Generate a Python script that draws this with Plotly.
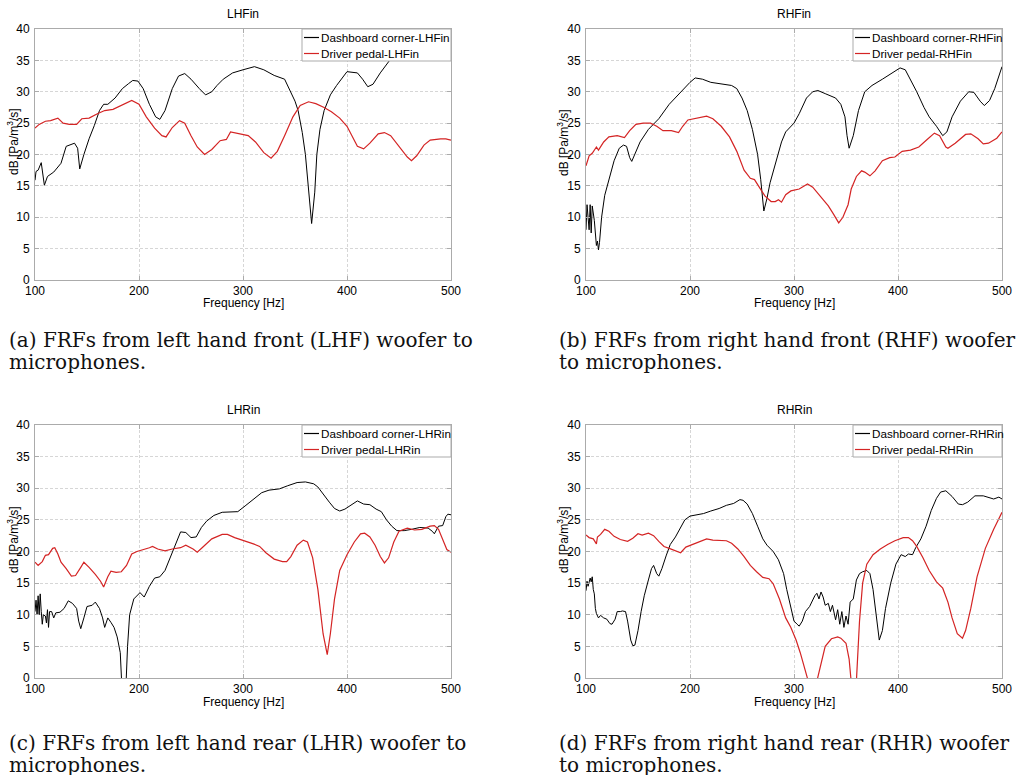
import plotly.graph_objects as go

# ---------------- data ----------------
# (a) LHFin
a_dash_f = [100,101,103,106,109,112,118,125,130,136,138,141,143,147,152,157,162,166,170,177,184,190,194,199,204,210,216,220,225,232,238,244,250,258,264,270,275,281,290,300,311,320,330,340,346,350,353,357,360,363,366,369,371,374,378,384,390,400,410,415,420,425,432,441,450,460,480,500]
a_dash_v = [15.9,17.3,17.5,18.7,15.1,16.5,17.2,18.6,21.3,21.6,21.8,21.0,17.7,20.0,22.5,24.6,27.0,28.0,28.0,29.0,30.5,31.3,31.8,31.7,30.5,28.0,26.0,25.6,27.0,30.5,32.5,32.9,32.0,30.5,29.5,30.0,31.0,32.0,33.0,33.5,34.0,33.5,32.6,32.0,30.0,28.5,27.0,23.5,20.0,15.0,9.0,14.0,20.0,24.0,27.0,29.5,31.0,33.2,33.0,32.0,30.8,31.2,33.0,35.0,36.5,37.5,38.0,38.0]
a_ped_f = [100,104,110,115,122,127,133,140,145,152,160,167,175,185,193,200,207,215,222,226,232,239,244,250,256,263,270,278,284,288,295,305,312,320,327,333,340,348,355,363,370,378,385,393,400,405,410,416,422,430,436,442,450,458,462,467,474,480,490,495,500]
a_ped_v = [24.2,24.8,25.3,25.4,25.8,25.0,24.8,24.8,25.7,25.8,26.5,27.0,27.2,28.0,28.6,28.0,26.0,24.2,23.0,22.8,24.3,25.4,25.0,23.0,21.2,20.0,20.8,22.2,22.4,23.6,23.4,23.0,22.0,20.3,19.4,20.5,23.0,26.0,27.8,28.4,28.1,27.5,26.8,25.8,24.5,22.8,21.3,20.9,21.8,23.3,23.5,23.0,21.3,19.6,19.0,19.8,21.5,22.3,22.5,22.5,22.3]

# (b) RHFin
b_dash_f = [100,101,103,104,105,106,108,110,111,112,113,115,118,122,127,132,136,139,142,144,148,152,160,170,180,190,200,205,212,220,230,240,245,250,255,260,265,268,271,274,277,282,288,292,300,305,312,318,323,330,340,345,349,351,353,357,362,368,375,385,395,402,407,412,418,425,430,437,443,447,452,460,468,473,479,483,488,493,498,500]
b_dash_v = [8.0,12.0,8.0,12.0,7.5,11.8,9.5,5.5,6.2,4.8,6.0,10.0,13.5,16.0,19.0,21.0,21.5,21.3,19.5,18.9,20.5,22.0,24.0,25.7,28.0,29.8,31.5,32.2,32.0,31.5,31.3,31.0,30.5,29.0,27.0,24.0,20.0,16.0,11.0,13.0,15.5,18.5,22.0,23.6,25.0,26.5,29.0,30.0,30.2,29.7,29.0,28.0,26.0,23.0,21.0,23.0,27.0,30.0,31.0,32.0,33.0,33.8,33.5,32.0,30.0,27.5,26.0,24.5,23.0,23.6,26.0,28.5,30.0,29.9,28.5,27.8,28.6,30.5,33.0,34.0]
b_ped_f = [100,103,106,110,112,117,122,130,137,142,148,155,162,168,174,182,189,193,198,205,212,216,222,230,238,245,252,258,262,267,272,278,282,285,288,292,297,305,313,318,325,333,338,343,347,352,355,360,365,368,373,378,385,392,397,404,412,420,428,435,440,446,448,455,465,470,477,482,487,495,500]
b_ped_v = [18.2,19.8,20.2,21.2,20.7,22.0,22.8,23.0,22.7,23.8,24.8,25.0,25.0,24.5,23.8,23.8,23.5,24.5,25.5,25.7,26.0,26.1,25.7,24.5,22.8,20.5,17.5,16.2,16.0,14.8,13.4,12.5,12.5,12.8,12.4,13.6,14.2,14.5,15.3,14.8,13.4,11.8,10.5,9.1,10.0,12.0,14.5,16.5,17.4,17.2,16.6,17.4,19.0,19.5,19.6,20.5,20.7,21.2,22.4,23.4,23.0,21.2,21.0,21.8,23.2,23.3,22.5,21.7,21.8,22.6,23.6]

# (c) LHRin
c_dash_f = [100,101,102,103,104,105,106,107,108,110,111,112,113,114,116,118,120,124,128,132,136,140,142,144,147,150,155,158,162,165,167,170,173,176,179,182,184,187,189,191,195,198,201,205,210,215,220,225,230,235,240,245,250,255,260,265,272,280,290,295,302,310,318,325,335,343,352,360,368,372,378,383,388,393,398,403,410,416,422,428,433,438,443,448,455,462,470,478,482,484,488,492,495,497,500]
c_dash_v = [10.5,12.3,10.0,13.0,10.0,13.3,10.5,8.5,10.0,9.8,8.7,10.8,8.0,10.5,10.5,9.5,10.3,10.4,11.0,12.2,11.8,11.0,9.0,7.8,9.5,11.3,11.5,12.0,11.0,9.5,8.0,9.5,8.8,8.0,6.5,4.0,-3.0,-3.0,5.0,10.0,12.5,13.0,13.5,12.8,14.5,15.8,16.0,17.0,19.0,21.0,23.1,23.0,22.2,22.3,23.8,24.8,25.7,26.2,26.3,26.3,27.2,28.2,29.3,29.7,29.9,30.4,30.9,31.0,30.7,30.2,28.8,27.8,26.8,26.4,26.7,27.3,28.0,27.5,27.4,26.7,26.3,25.0,24.0,23.3,23.3,23.5,23.8,23.7,23.2,22.8,24.0,24.1,25.5,25.9,25.8]
c_ped_f = [100,103,107,110,113,117,119,122,125,130,135,139,144,147,152,158,163,166,170,173,178,183,188,193,198,205,210,213,218,225,232,240,245,252,256,262,270,280,285,292,300,310,316,322,330,338,342,346,352,358,362,367,372,377,381,384,388,393,400,407,413,417,422,427,432,436,440,445,450,458,465,472,480,484,488,492,496,500]
c_ped_v = [18.3,17.8,18.4,19.4,19.5,20.5,20.6,19.6,18.3,17.3,16.1,16.2,17.5,18.3,17.5,16.4,15.3,14.4,16.0,16.9,16.7,16.8,17.8,19.6,20.0,20.3,20.6,20.8,20.4,20.1,20.4,20.6,21.0,20.4,19.9,20.8,22.0,22.7,22.7,22.2,21.8,21.2,20.8,19.8,18.8,18.4,18.4,19.2,21.0,21.8,21.5,19.0,14.0,7.0,3.7,7.0,12.5,17.0,19.5,21.5,22.8,22.9,22.3,21.0,19.2,18.2,19.0,21.5,23.2,23.7,23.4,23.5,24.0,24.1,23.5,22.0,20.3,19.9]

# (d) RHRin
d_dash_f = [100,101,102,104,105,106,107,108,109,110,112,114,117,120,123,125,128,130,133,135,138,140,143,145,147,150,153,156,160,163,165,168,170,173,177,181,186,190,195,200,206,213,220,228,235,242,248,251,255,260,265,270,274,280,285,290,293,297,300,303,305,308,311,315,318,320,322,324,326,328,330,333,335,337,340,342,344,346,348,350,352,354,357,360,363,366,370,373,376,379,382,385,388,393,398,403,407,410,414,417,422,427,432,437,441,446,452,458,462,467,474,482,488,492,497,500]
d_dash_v = [13.8,15.3,14.5,15.8,15.2,16.0,14.0,13.3,11.0,10.2,9.5,9.9,9.5,9.3,8.6,8.5,9.3,10.5,10.5,10.6,10.5,9.0,6.0,5.1,5.2,7.5,10.5,13.0,15.5,17.3,17.8,16.5,16.1,17.3,19.3,21.1,22.3,23.4,25.0,25.6,25.8,26.0,26.4,26.8,27.3,27.6,28.2,28.1,27.5,26.0,24.0,22.0,21.0,20.0,18.7,16.5,14.0,11.0,9.0,8.5,8.2,9.0,10.5,11.3,12.5,13.0,13.4,12.5,13.6,12.8,11.5,11.8,10.5,11.5,9.2,10.8,8.5,10.5,8.0,9.8,8.5,12.0,12.5,15.5,16.5,16.8,17.0,16.5,14.0,10.0,6.0,7.5,11.0,15.0,18.0,19.5,19.2,19.6,19.5,20.6,22.0,24.0,26.5,28.4,29.4,29.6,28.7,27.5,27.4,27.8,28.8,28.8,28.5,28.3,28.6,28.3]
d_ped_f = [100,103,107,110,111,114,118,122,127,133,140,145,150,154,160,165,170,175,180,186,191,196,202,210,216,222,228,235,240,246,252,258,264,270,276,280,286,292,297,302,306,310,314,318,322,327,330,336,342,345,350,353,356,358,360,363,366,370,376,383,390,397,405,410,414,418,424,430,437,443,448,452,457,462,465,470,476,484,492,500]
d_ped_v = [22.6,22.2,22.0,21.2,22.3,22.7,23.5,23.2,22.4,21.9,21.6,22.1,22.8,22.6,22.9,22.5,21.6,20.8,20.5,20.1,19.8,20.7,21.1,21.6,22.0,21.8,21.7,21.7,21.3,20.4,19.2,17.8,16.8,15.9,15.7,14.9,12.5,9.5,8.0,6.0,4.0,1.5,-1.0,-3.0,-0.5,3.0,5.0,6.2,6.5,6.3,5.5,3.0,-1.0,-6.0,-0.5,9.0,15.0,18.0,19.5,20.4,21.1,21.7,22.2,22.2,21.7,20.8,19.0,17.0,15.2,14.2,12.0,9.5,7.0,6.3,7.5,11.0,16.0,20.5,23.5,26.2]

panel_titles = ["LHFin", "RHFin", "LHRin", "RHRin"]
dash_names = ["Dashboard corner-LHFin", "Dashboard corner-RHFin", "Dashboard corner-LHRin", "Dashboard corner-RHRin"]
ped_names = ["Driver pedal-LHFin", "Driver pedal-RHFin", "Driver pedal-LHRin", "Driver pedal-RHRin"]
captions = [
    ("(a) FRFs from left hand front (LHF) woofer to", "microphones."),
    ("(b) FRFs from right hand front (RHF) woofer", "to microphones."),
    ("(c) FRFs from left hand rear (LHR) woofer to", "microphones."),
    ("(d) FRFs from right hand rear (RHR) woofer", "to microphones."),
]
x_title = "Frequency [Hz]"
y_title = "dB [Pa/m<sup>3</sup>/s]"
x_ticks = [100, 200, 300, 400, 500]
y_ticks = [0, 5, 10, 15, 20, 25, 30, 35, 40]

series = [
    (a_dash_f, a_dash_v, a_ped_f, a_ped_v),
    (b_dash_f, b_dash_v, b_ped_f, b_ped_v),
    (c_dash_f, c_dash_v, c_ped_f, c_ped_v),
    (d_dash_f, d_dash_v, d_ped_f, d_ped_v),
]

# ---------------- layout ----------------
W, H = 1020, 775
boxes = [(35, 451, 29, 280), (586, 1002, 29, 280), (35, 451, 425, 678), (586, 1002, 425, 678)]
ytitle_pos = [(13, 142), (563, 143), (13, 540), (563, 540)]
xtitle_y = [303, 303, 702, 702]
cap_pos = [(7, 340), (557, 340), (7, 743), (557, 743)]
CAP_GAP = 22

FONT = "Liberation Sans, Arial, sans-serif"
SERIF = "DejaVu Serif, serif"
BLACK = "#000000"
RED = "#d42424"
BOXGREY = "#ababab"
GRIDGREY = "#d6d6d6"


def px(x):
    return x / W


def py(y):
    return 1 - y / H


fig = go.Figure()
annotations = []
shapes = []
layout = dict(
    width=W, height=H, margin=dict(l=0, r=0, t=0, b=0, autoexpand=False),
    paper_bgcolor="white", plot_bgcolor="white",
    font=dict(family=FONT, size=12, color="#000"),
    showlegend=False,
)

for i in range(4):
    l, r, t, b = boxes[i]
    n = "" if i == 0 else str(i + 1)
    xa, ya = "x" + n, "y" + n
    df, dv, pf, pv = series[i]
    fig.add_trace(go.Scatter(x=df, y=dv, mode="lines", name=dash_names[i],
                             line=dict(color=BLACK, width=1), xaxis=xa, yaxis=ya))
    fig.add_trace(go.Scatter(x=pf, y=pv, mode="lines", name=ped_names[i],
                             line=dict(color=RED, width=1.2), xaxis=xa, yaxis=ya))
    axcommon = dict(showline=True, linecolor=BOXGREY, linewidth=1, mirror="ticks",
                    ticks="inside", ticklen=4, tickcolor=BOXGREY, automargin=False,
                    showgrid=True, gridcolor=GRIDGREY, griddash="3px,2px", gridwidth=1,
                    zeroline=False, tickfont=dict(family=FONT, size=12, color="#000"))
    layout["xaxis" + n] = dict(domain=[px(l), px(r)], range=[100, 500], tickvals=x_ticks,
                               anchor=ya, **axcommon)
    layout["yaxis" + n] = dict(domain=[py(b), py(t)], range=[0, 40], tickvals=y_ticks,
                               anchor=xa, ticklabelstandoff=2, **axcommon)
    # axis titles
    tx, ty = ytitle_pos[i]
    annotations.append(dict(text=y_title, x=px(tx), y=py(ty), xref="paper", yref="paper",
                            showarrow=False, textangle=-90, xanchor="center", yanchor="middle",
                            font=dict(family=FONT, size=12, color="#000")))
    annotations.append(dict(text=x_title, x=px((l + r) / 2), y=py(xtitle_y[i]),
                            xref="paper", yref="paper", showarrow=False,
                            xanchor="center", yanchor="middle",
                            font=dict(family=FONT, size=12, color="#000")))
    # panel title
    annotations.append(dict(text=panel_titles[i], x=px((l + r) / 2), y=py(t - 15),
                            xref="paper", yref="paper", showarrow=False,
                            xanchor="center", yanchor="middle",
                            font=dict(family=FONT, size=12, color="#000")))
    # legend box (top-right corner of the axes)
    lw, lh = 149, 32
    shapes.append(dict(type="rect", xref="paper", yref="paper", layer="above",
                       x0=px(r - lw), x1=px(r), y0=py(t + lh), y1=py(t),
                       fillcolor="white", line=dict(color=BOXGREY, width=1)))
    for k, (name, col) in enumerate([(dash_names[i], BLACK), (ped_names[i], RED)]):
        yy = t + 8.5 + 16 * k
        shapes.append(dict(type="line", xref="paper", yref="paper", layer="above",
                           x0=px(r - lw + 2), x1=px(r - lw + 17), y0=py(yy), y1=py(yy),
                           line=dict(color=col, width=1.2)))
        annotations.append(dict(text=name, x=px(r - lw + 17), y=py(yy), xref="paper", yref="paper",
                                showarrow=False, xanchor="left", yanchor="middle",
                                font=dict(family=FONT, size=11.7, color="#000")))
    # caption (two lines)
    cx, cy = cap_pos[i]
    for k, line in enumerate(captions[i]):
        annotations.append(dict(text=line, x=px(cx), y=py(cy + CAP_GAP * k),
                                xref="paper", yref="paper", showarrow=False,
                                xanchor="left", yanchor="middle", align="left",
                                font=dict(family=SERIF, size=20, color="#111")))

layout["annotations"] = annotations
layout["shapes"] = shapes
fig.update_layout(**layout)
fig.write_html("out.html", config={"displayModeBar": False},
               post_script="document.body.style.margin='0';document.body.style.overflow='hidden';")
